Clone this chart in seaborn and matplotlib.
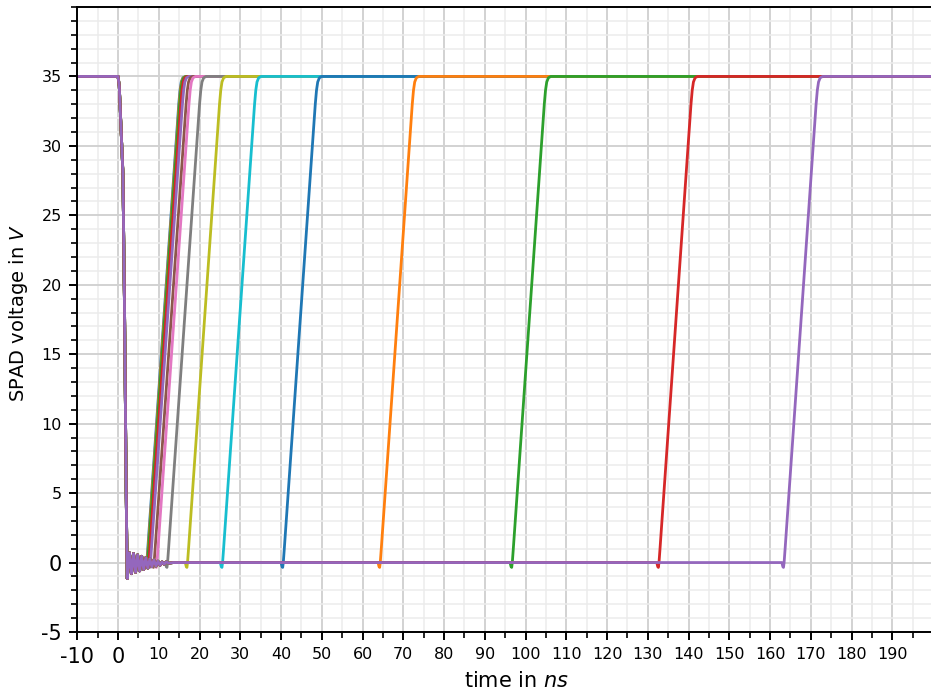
import numpy as np
import pandas as pd
import matplotlib
matplotlib.use("Agg")
import matplotlib.pyplot as plt
from matplotlib.ticker import MultipleLocator
import seaborn as sns

# Recharge start (ns) of each SPAD trace, in plotting order
recharge_start = [6.9, 7.0, 7.1, 7.4, 7.8, 8.7, 9.4, 12.0, 16.9, 25.5,
                  40.4, 64.2, 96.6, 132.6, 163.3]

# Avalanche discharge and ringing (absolute time in ns, voltage in V)
quench_t = [-10.0, 0.0, 0.3, 1.2, 1.6, 2.0, 2.25, 2.8, 3.3, 3.8, 4.3,
            4.8, 5.3, 5.8, 6.3, 6.8, 7.3, 7.8, 8.3, 8.8, 9.3,
            9.8, 10.3, 10.8, 11.3, 11.8, 12.5, 13.5, 200.0]
quench_v = [35.0, 35.0, 34.3, 28.0, 18.0, 5.0, -1.15, 0.7, -0.8, 0.65,
            -0.7, 0.55, -0.6, 0.45, -0.5, 0.35, -0.4, 0.25, -0.3, 0.2,
            -0.25, 0.1, -0.2, 0.05, -0.12, 0.05, -0.05, 0.0, 0.0]

# Recharge edge relative to its start (ns, V)
recharge_dt = [-0.4, -0.15, 0.0, 0.15, 0.4, 8.0, 8.3, 8.6, 9.0, 9.6]
recharge_v = [0.0, -0.3, -0.35, 0.0, 1.0, 33.0, 34.0, 34.6, 34.9, 35.0]

t_end = 199.5
v_final = 35.0

rows = []
for k, tr in enumerate(recharge_start):
    for t, v in zip(quench_t, quench_v):
        if t < tr + recharge_dt[0]:
            rows.append((k, t, v))
    for dt, v in zip(recharge_dt, recharge_v):
        rows.append((k, tr + dt, v))
    rows.append((k, t_end, v_final))
df = pd.DataFrame(rows, columns=["trace", "t", "v"])

sns.set_style("ticks")
plt.rcParams["font.family"] = ["DejaVu Sans"]
plt.rcParams["mathtext.fontset"] = "dejavusans"
plt.rcParams["text.color"] = "black"
plt.rcParams["axes.labelcolor"] = "black"
plt.rcParams["xtick.color"] = "black"
plt.rcParams["ytick.color"] = "black"

fig = plt.figure(figsize=(9.31, 6.91), dpi=100)
ax = fig.add_axes([77.3 / 931, 59 / 691, 1 - 77.3 / 931, 625 / 691])

tab10 = sns.color_palette("tab10", 10)
palette = [tab10[i % 10] for i in range(len(recharge_start))]

sns.lineplot(data=df, x="t", y="v", hue="trace", palette=palette,
             sort=False, estimator=None, legend=False, linewidth=2.0, ax=ax)

ax.set_xlim(-10, t_end)
ax.set_ylim(-5, 40)

ax.xaxis.set_major_locator(MultipleLocator(10))
ax.xaxis.set_minor_locator(MultipleLocator(5))
ax.yaxis.set_major_locator(MultipleLocator(5))
ax.yaxis.set_minor_locator(MultipleLocator(1))

ax.grid(which="major", color="#d2d2d2", linewidth=1.4)
ax.grid(which="minor", color="#ececec", linewidth=1.1)
ax.set_axisbelow(True)

for s in ax.spines.values():
    s.set_linewidth(1.4)
    s.set_color("black")
ax.spines["right"].set_visible(False)

ax.tick_params(which="major", length=6, width=1.4, labelsize=11.5, pad=5,
               colors="black")
ax.tick_params(which="minor", length=4, width=1.2, colors="black")

xt = list(range(-10, 200, 10))
ax.set_xticks(xt)
ax.set_xticklabels([str(v) for v in xt])
yt = list(range(-5, 40, 5))
ax.set_yticks(yt)
ax.set_yticklabels([str(v) for v in yt])
for lab in ax.get_xticklabels():
    if lab.get_text() in ("-10", "0"):
        lab.set_fontsize(15)
for lab in ax.get_yticklabels():
    if lab.get_text() in ("-5", "0"):
        lab.set_fontsize(15)

ax.set_xlabel("time in $ns$", fontsize=15)
ax.xaxis.set_label_coords(0.515, -0.062)
ax.set_ylabel("SPAD voltage in $V$", fontsize=14)
ax.yaxis.set_label_coords(-0.0555, 0.51)

fig.savefig("out.png", dpi=100)
